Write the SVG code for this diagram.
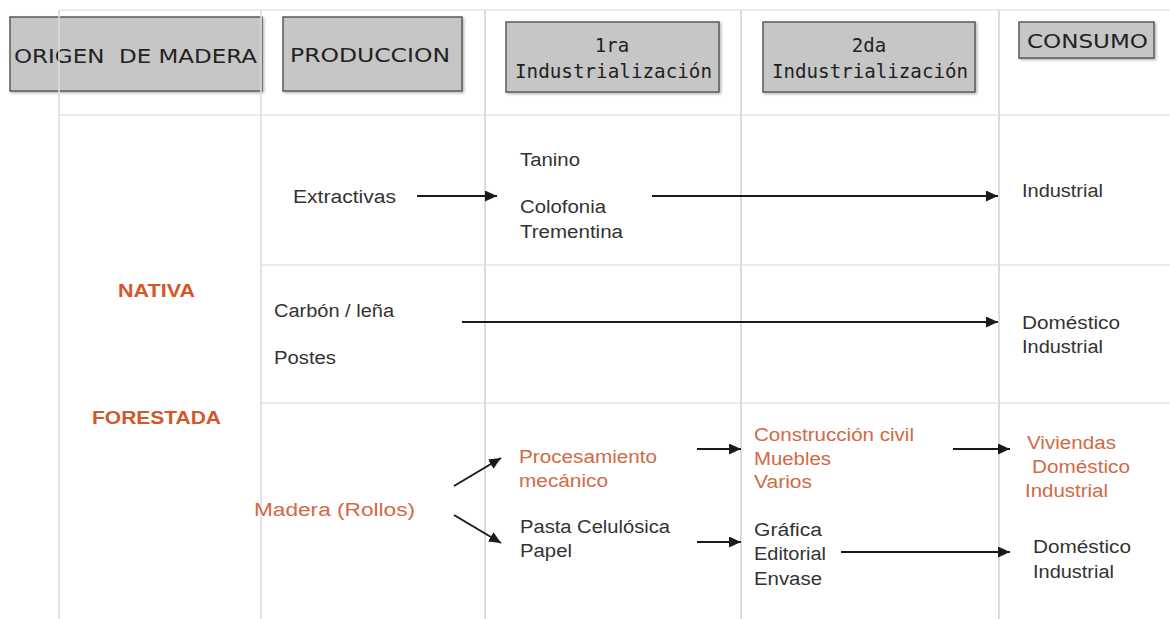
<svg xmlns="http://www.w3.org/2000/svg" width="1170" height="619" viewBox="0 0 1170 619">
<defs>
<marker id="ah" markerUnits="userSpaceOnUse" markerWidth="13" markerHeight="11" refX="12" refY="5.5" orient="auto">
<path d="M0,0 L12,5.5 L0,11 Z" fill="#1a1a1a"/>
</marker>
<filter id="sh" x="-5%" y="-5%" width="115%" height="120%">
<feDropShadow dx="1.5" dy="1.5" stdDeviation="1" flood-color="#888" flood-opacity="0.6"/>
</filter>
</defs>
<style>
.grid{stroke:#dcdcdc;stroke-width:2;fill:none}
.hgrid{stroke:#ececec;stroke-width:2;fill:none}
.hbox{fill:#c6c6c6;stroke:#5a5a5a;stroke-width:1.5}
.ht{font-family:"DejaVu Sans",Verdana,sans-serif;font-size:20px;fill:#222;white-space:pre}
.hm{font-family:"DejaVu Sans Mono",monospace;font-size:19px;fill:#222}
.t{font-family:"Liberation Sans",Arial,sans-serif;font-size:18px;fill:#333}
.o{font-family:"Liberation Sans",Arial,sans-serif;font-size:18px;fill:#cf6a45}
.ob{font-family:"Liberation Sans",Arial,sans-serif;font-size:19px;font-weight:bold;fill:#d4562a}
.c{stroke:#1a1a1a;stroke-width:2;fill:none;marker-end:url(#ah)}
</style>
<rect width="1170" height="619" fill="#ffffff"/>
<g id="grid">
<line class="hgrid" x1="59" y1="10" x2="1170" y2="10"/>
<line class="hgrid" x1="59" y1="115" x2="1170" y2="115"/>
<line class="hgrid" x1="261" y1="265" x2="1170" y2="265"/>
<line class="hgrid" x1="261" y1="403" x2="1170" y2="403"/>
<line class="grid" x1="485" y1="10" x2="485" y2="619"/>
<line class="grid" x1="741" y1="10" x2="741" y2="619"/>
<line class="grid" x1="999" y1="10" x2="999" y2="619"/>
</g>
<g id="h-origen">
<rect class="hbox" x="10" y="17" width="252" height="74" filter="url(#sh)"/>
<text class="ht" x="14" y="63" textLength="243" lengthAdjust="spacingAndGlyphs" xml:space="preserve">ORIGEN  DE MADERA</text>
</g>
<g id="h-produccion">
<rect class="hbox" x="283" y="17" width="179" height="74" filter="url(#sh)"/>
<text class="ht" x="290" y="62" textLength="160" lengthAdjust="spacingAndGlyphs">PRODUCCION</text>
</g>
<g id="h-1ra">
<rect class="hbox" x="506" y="22" width="213" height="70" filter="url(#sh)"/>
<text class="hm" x="612" y="52" text-anchor="middle">1ra</text>
<text class="hm" x="515" y="78" textLength="197" lengthAdjust="spacingAndGlyphs">Industrialización</text>
</g>
<g id="h-2da">
<rect class="hbox" x="763" y="22" width="212" height="70" filter="url(#sh)"/>
<text class="hm" x="869" y="52" text-anchor="middle">2da</text>
<text class="hm" x="772" y="78" textLength="196" lengthAdjust="spacingAndGlyphs">Industrialización</text>
</g>
<g id="h-consumo">
<rect class="hbox" x="1019" y="22" width="135" height="36" filter="url(#sh)"/>
<text class="ht" x="1027" y="48" font-size="18" textLength="121" lengthAdjust="spacingAndGlyphs">CONSUMO</text>
</g>
<g id="grid-left">
<line class="grid" x1="59" y1="10" x2="59" y2="619" opacity="0.8"/>
<line class="grid" x1="261" y1="10" x2="261" y2="619" opacity="0.8"/>
</g>
<g id="n-nativa"><text class="ob" x="118" y="297" textLength="77" lengthAdjust="spacingAndGlyphs">NATIVA</text></g>
<g id="n-forestada"><text class="ob" x="92" y="424" textLength="129" lengthAdjust="spacingAndGlyphs">FORESTADA</text></g>
<g id="n-extractivas"><text class="t" x="293" y="203" textLength="103" lengthAdjust="spacingAndGlyphs">Extractivas</text></g>
<g id="n-tanino">
<text class="t" x="520" y="166" textLength="60" lengthAdjust="spacingAndGlyphs">Tanino</text>
<text class="t" x="520" y="213" textLength="86" lengthAdjust="spacingAndGlyphs">Colofonia</text>
<text class="t" x="520" y="238" textLength="103" lengthAdjust="spacingAndGlyphs">Trementina</text>
</g>
<g id="n-industrial1"><text class="t" x="1022" y="197" textLength="81" lengthAdjust="spacingAndGlyphs">Industrial</text></g>
<g id="n-carbon">
<text class="t" x="274" y="317" textLength="120" lengthAdjust="spacingAndGlyphs">Carbón / leña</text>
<text class="t" x="274" y="364" textLength="62" lengthAdjust="spacingAndGlyphs">Postes</text>
</g>
<g id="n-domestico1">
<text class="t" x="1022" y="329" textLength="98" lengthAdjust="spacingAndGlyphs">Doméstico</text>
<text class="t" x="1022" y="353" textLength="81" lengthAdjust="spacingAndGlyphs">Industrial</text>
</g>
<g id="n-madera"><text class="o" x="254" y="516" textLength="161" lengthAdjust="spacingAndGlyphs">Madera (Rollos)</text></g>
<g id="n-procesamiento">
<text class="o" x="519" y="463" textLength="138" lengthAdjust="spacingAndGlyphs">Procesamiento</text>
<text class="o" x="519" y="487" textLength="89" lengthAdjust="spacingAndGlyphs">mecánico</text>
</g>
<g id="n-pasta">
<text class="t" x="520" y="533" textLength="150" lengthAdjust="spacingAndGlyphs">Pasta Celulósica</text>
<text class="t" x="520" y="557" textLength="52" lengthAdjust="spacingAndGlyphs">Papel</text>
</g>
<g id="n-construccion">
<text class="o" x="754" y="441" textLength="160" lengthAdjust="spacingAndGlyphs">Construcción civil</text>
<text class="o" x="754" y="465" textLength="77" lengthAdjust="spacingAndGlyphs">Muebles</text>
<text class="o" x="754" y="488" textLength="58" lengthAdjust="spacingAndGlyphs">Varios</text>
</g>
<g id="n-grafica">
<text class="t" x="754" y="536" textLength="68" lengthAdjust="spacingAndGlyphs">Gráfica</text>
<text class="t" x="754" y="560" textLength="72" lengthAdjust="spacingAndGlyphs">Editorial</text>
<text class="t" x="754" y="585" textLength="68" lengthAdjust="spacingAndGlyphs">Envase</text>
</g>
<g id="n-viviendas">
<text class="o" x="1027" y="449" textLength="89" lengthAdjust="spacingAndGlyphs">Viviendas</text>
<text class="o" x="1032" y="473" textLength="98" lengthAdjust="spacingAndGlyphs">Doméstico</text>
<text class="o" x="1025" y="497" textLength="83" lengthAdjust="spacingAndGlyphs">Industrial</text>
</g>
<g id="n-domestico2">
<text class="t" x="1033" y="553" textLength="98" lengthAdjust="spacingAndGlyphs">Doméstico</text>
<text class="t" x="1033" y="578" textLength="81" lengthAdjust="spacingAndGlyphs">Industrial</text>
</g>
<g id="connectors">
<line class="c" x1="417" y1="196" x2="497" y2="196"/>
<line class="c" x1="652" y1="196" x2="998" y2="196"/>
<line class="c" x1="462" y1="322" x2="998" y2="322"/>
<line class="c" x1="454" y1="486" x2="501" y2="458"/>
<line class="c" x1="454" y1="515" x2="501" y2="543"/>
<line class="c" x1="697" y1="449" x2="741" y2="449"/>
<line class="c" x1="953" y1="449" x2="1010" y2="449"/>
<line class="c" x1="697" y1="542" x2="741" y2="542"/>
<line class="c" x1="841" y1="552" x2="1010" y2="552"/>
</g>
</svg>
